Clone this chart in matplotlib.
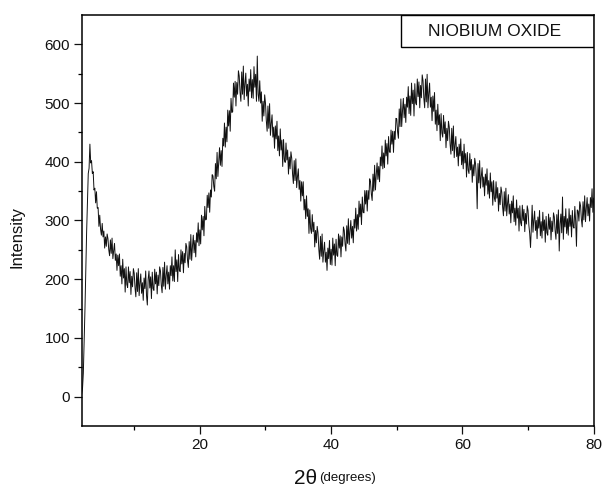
import numpy as np
import matplotlib
matplotlib.use('Agg')
import matplotlib.pyplot as plt
from matplotlib.patches import Rectangle

plt.rcParams['font.family'] = ['Liberation Sans', 'DejaVu Sans']

# 2-theta sampling: start and step (degrees)
theta_start = 2.0
theta_step = 0.125

# Intensity, 8 samples per degree
intensity = [
    5, 14, 40, 92, 150, 218, 280, 332,            # 2
    380, 389, 430, 398, 402, 380, 383, 352,       # 3
    355, 330, 349, 321, 322, 290, 309, 285,       # 4
    275, 295, 272, 282, 253, 272, 256, 277,       # 5
    269, 250, 240, 267, 244, 270, 235, 249,       # 6
    261, 232, 243, 215, 241, 223, 243, 205,       # 7
    223, 192, 234, 202, 218, 178, 221, 191,       # 8
    186, 221, 194, 213, 174, 205, 187, 218,       # 9
    210, 185, 170, 211, 179, 218, 172, 193,       # 10
    209, 176, 194, 164, 202, 184, 214, 172,       # 11
    156, 200, 214, 185, 204, 167, 212, 184,       # 12
    181, 217, 192, 212, 175, 207, 189, 221,       # 13
    214, 190, 177, 220, 188, 229, 183, 206,       # 14
    223, 192, 212, 183, 223, 206, 238, 197,       # 15
    223, 196, 250, 213, 233, 196, 242, 215,       # 16
    213, 250, 226, 247, 211, 244, 228, 261,       # 17
    255, 232, 220, 264, 234, 276, 232, 256,       # 18
    275, 245, 266, 238, 279, 263, 296, 257,       # 19
    284, 260, 309, 284, 307, 274, 324, 301,       # 20
    302, 343, 322, 347, 314, 352, 340, 378,       # 21
    376, 358, 350, 397, 371, 416, 375, 401,       # 22
    424, 394, 419, 392, 440, 427, 466, 425,       # 23
    459, 434, 488, 461, 487, 452, 508, 484,       # 24
    485, 534, 510, 537, 495, 535, 515, 555,       # 25
    546, 518, 503, 553, 515, 563, 506, 533,       # 26
    551, 512, 532, 495, 541, 520, 557, 509,       # 27
    540, 508, 562, 527, 549, 503, 580, 515,       # 28
    503, 538, 500, 519, 469, 503, 478, 514,       # 29
    500, 470, 452, 495, 457, 499, 445, 465,       # 30
    480, 442, 459, 423, 461, 439, 469, 419,       # 31
    444, 410, 456, 420, 437, 392, 438, 404,       # 32
    399, 432, 403, 420, 379, 408, 388, 417,       # 33
    406, 379, 363, 402, 368, 405, 356, 375,       # 34
    388, 353, 368, 333, 366, 342, 366, 318,       # 35
    336, 303, 342, 307, 320, 278, 318, 286,       # 36
    278, 310, 281, 297, 255, 283, 262, 290,       # 37
    279, 251, 234, 273, 239, 277, 229, 249,       # 38
    263, 229, 246, 215, 253, 235, 266, 225,       # 39
    251, 224, 270, 241, 260, 223, 268, 241,       # 40
    239, 277, 253, 274, 238, 272, 256, 289,       # 41
    283, 260, 248, 291, 261, 303, 259, 282,       # 42
    300, 270, 290, 262, 302, 287, 321, 282,       # 43
    310, 285, 333, 306, 328, 293, 340, 314,       # 44
    313, 351, 328, 351, 316, 351, 336, 371,       # 45
    366, 345, 334, 379, 350, 394, 352, 378,       # 46
    398, 370, 392, 366, 408, 393, 427, 388,       # 47
    415, 390, 437, 410, 431, 396, 443, 417,       # 48
    416, 454, 430, 452, 416, 452, 438, 474,       # 49
    473, 451, 440, 490, 460, 507, 460, 487,       # 50
    508, 475, 498, 467, 510, 493, 528, 482,       # 51
    512, 479, 534, 499, 522, 478, 533, 500,       # 52
    497, 541, 511, 536, 492, 530, 509, 548,       # 53
    538, 508, 492, 541, 502, 549, 492, 517,       # 54
    534, 493, 510, 470, 512, 486, 518, 464,       # 55
    488, 453, 498, 463, 480, 436, 482, 449,       # 56
    442, 479, 448, 468, 424, 457, 436, 469,       # 57
    459, 430, 413, 457, 419, 461, 407, 429,       # 58
    443, 409, 425, 393, 430, 410, 439, 395,       # 59
    418, 388, 430, 398, 414, 374, 416, 386,       # 60
    380, 414, 386, 404, 365, 395, 376, 406,       # 61
    397, 372, 320, 397, 364, 402, 355, 375,       # 62
    390, 357, 374, 342, 379, 360, 388, 345,       # 63
    368, 338, 381, 349, 366, 326, 368, 338,       # 64
    332, 366, 338, 356, 316, 346, 327, 357,       # 65
    348, 323, 308, 349, 316, 355, 308, 329,       # 66
    344, 311, 328, 296, 333, 313, 342, 298,       # 67
    321, 292, 335, 304, 321, 282, 325, 296,       # 68
    291, 326, 300, 319, 281, 312, 294, 325,       # 69
    317, 292, 278, 254, 287, 326, 280, 301,       # 70
    316, 283, 300, 269, 306, 287, 317, 274,       # 71
    298, 270, 314, 283, 301, 263, 307, 279,       # 72
    275, 311, 285, 305, 267, 299, 281, 313,       # 73
    306, 282, 268, 310, 278, 318, 248, 294,       # 74
    311, 279, 340, 268, 307, 289, 320, 278,       # 75
    303, 275, 320, 290, 309, 272, 317, 290,       # 76
    287, 324, 299, 256, 318, 316, 299, 332,       # 77
    325, 302, 289, 332, 301, 342, 298, 321,       # 78
    339, 308, 328, 299, 339, 322, 354, 314,       # 79
    338,                                          # 80
]
two_theta = theta_start + theta_step * np.arange(len(intensity))

x_major = [20, 40, 60, 80]
x_minor = [10, 30, 50, 70]
y_major = [0, 100, 200, 300, 400, 500, 600]
y_minor = [50, 150, 250, 350, 450, 550]
legend_label = 'NIOBIUM OXIDE'

fig = plt.figure(figsize=(6.02, 4.87), dpi=100)
ax = fig.add_axes([0.1357, 0.1253, 0.8505, 0.8439])
ax.plot(two_theta, intensity, color='#111111', lw=0.7)

ax.set_xlim(2, 80)
ax.set_ylim(-50, 650)
ax.set_xticks(x_major)
ax.set_xticks(x_minor, minor=True)
ax.set_yticks(y_major)
ax.set_yticks(y_minor, minor=True)
ax.tick_params(which='major', direction='out', length=5.5, width=0.9,
               labelsize=11, pad=3, colors='#111111')
ax.tick_params(which='minor', direction='out', length=3, width=0.9)
ax.tick_params(top=False, right=False, which='both')
for s in ax.spines.values():
    s.set_linewidth(1.1)

ax.add_patch(Rectangle((0.6236, 0.922), 1 - 0.6236, 1 - 0.922,
                       transform=ax.transAxes, fill=False, lw=1.0,
                       ec='black', zorder=5))
ax.text(0.807, 0.961, legend_label, transform=ax.transAxes,
        ha='center', va='center', fontsize=12.5, color='#111111')

fig.text(17 / 602, 1 - 236.5 / 487, 'Intensity', rotation=90,
         ha='center', va='center', fontsize=12, color='#111111')
fig.text(317 / 602, 1 - 478 / 487, '2θ', ha='right', va='center',
         fontsize=15, color='#111111')
fig.text(319 / 602, 1 - 478 / 487, '(degrees)', ha='left', va='center',
         fontsize=9.5, color='#111111')

fig.savefig('out.png', dpi=100)
